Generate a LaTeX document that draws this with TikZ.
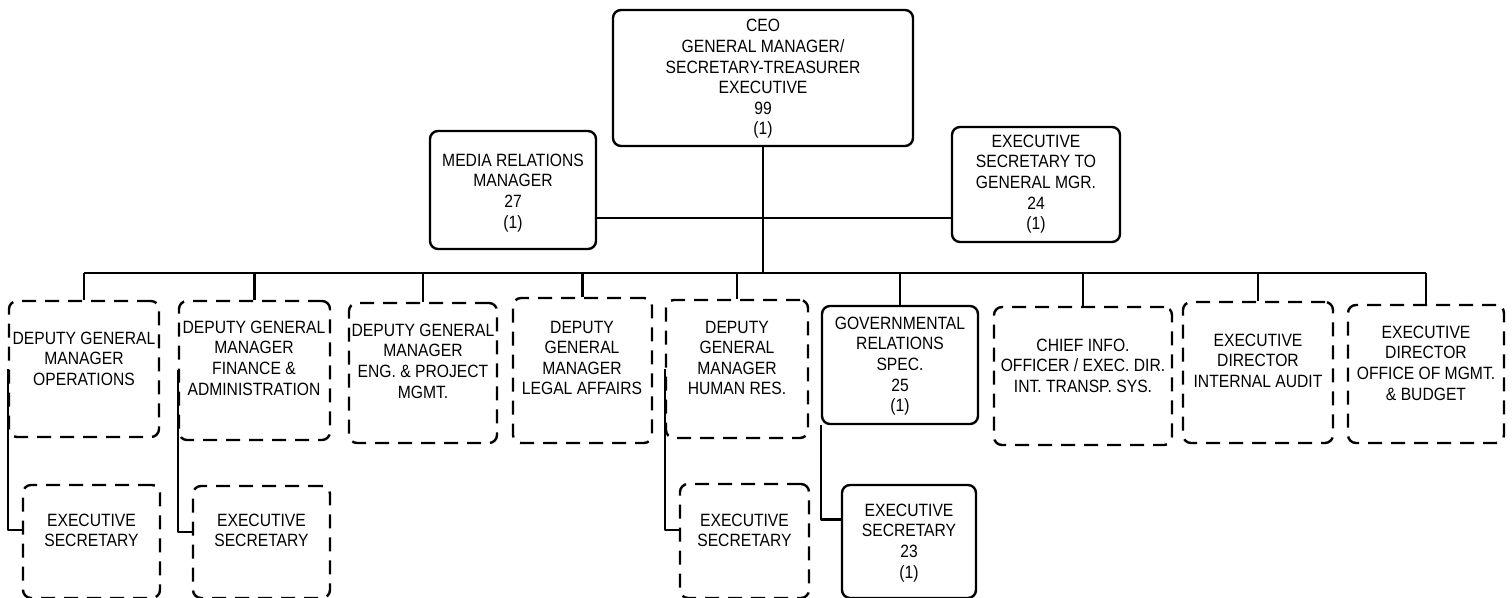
\documentclass[tikz,border=0pt]{standalone}
\usepackage{fontspec}
\setmainfont{Liberation Sans}[FakeStretch=0.88]
\usetikzlibrary{fit}
\newcommand\orgfont{\fontsize{8.9pt}{10.3pt}\selectfont}
\tikzset{
  solidbox/.style={draw, line width=1.2pt, rounded corners=4pt, inner sep=0pt},
  dashbox/.style={solidbox, dash pattern=on 7pt off 4.5pt},
  lbl/.style={align=center, inner sep=0pt, anchor=north, font=\orgfont},
  link/.style={line width=1.2pt}
}
\begin{document}
\begin{tikzpicture}[x=0.5pt,y=-0.5pt,line join=round]
\useasboundingbox (0,0) rectangle (1512,598);
% top level
\node[solidbox, fit={(613,10)(913,146)}] (ceo) {};
\node[solidbox, fit={(430,131)(596,249)}] (media) {};
\node[solidbox, fit={(952,127)(1120,242)}] (esgm) {};
\node[lbl] (ceoT) at (763,19) {CEO\\GENERAL MANAGER/\\SECRETARY-TREASURER\\EXECUTIVE\\99\\(1)};
\node[lbl] (mediaT) at (513,153.5) {MEDIA RELATIONS\\MANAGER\\27\\(1)};
\node[lbl] (esgmT) at (1036,134.5) {EXECUTIVE\\SECRETARY TO\\GENERAL MGR.\\24\\(1)};
% second row
\node[dashbox, fit={(9,301)(159,437)}] (ops) {};
\node[dashbox, fit={(179,301)(330,440)}] (fin) {};
\node[dashbox, fit={(349,303)(497,443)}] (eng) {};
\node[dashbox, fit={(513,298)(652,443)}] (legal) {};
\node[dashbox, fit={(666,300)(808,438)}] (hr) {};
\node[solidbox, fit={(822,306)(978,424)}] (gov) {};
\node[dashbox, fit={(994,307)(1172,445)}] (cio) {};
\node[dashbox, fit={(1183,302)(1333,443)}] (audit) {};
\node[dashbox, fit={(1348,305)(1504,443)}] (omb) {};
\node[lbl] (opsT) at (84,331.5) {DEPUTY GENERAL\\MANAGER\\OPERATIONS};
\node[lbl] (finT) at (254,320.5) {DEPUTY GENERAL\\MANAGER\\FINANCE \&\\ADMINISTRATION};
\node[lbl] (engT) at (423,323.5) {DEPUTY GENERAL\\MANAGER\\ENG. \& PROJECT\\MGMT.};
\node[lbl] (legalT) at (582,320.5) {DEPUTY\\GENERAL\\MANAGER\\LEGAL AFFAIRS};
\node[lbl] (hrT) at (737,320.5) {DEPUTY\\GENERAL\\MANAGER\\HUMAN RES.};
\node[lbl] (govT) at (900,316.5) {GOVERNMENTAL\\RELATIONS\\SPEC.\\25\\(1)};
\node[lbl] (cioT) at (1083,338.5) {CHIEF INFO.\\OFFICER / EXEC. DIR.\\INT. TRANSP. SYS.};
\node[lbl] (auditT) at (1258,333.5) {EXECUTIVE\\DIRECTOR\\INTERNAL AUDIT};
\node[lbl] (ombT) at (1426,325.5) {EXECUTIVE\\DIRECTOR\\OFFICE OF MGMT.\\\& BUDGET};
% third row
\node[dashbox, fit={(23,485)(160,598)}] (es1) {};
\node[dashbox, fit={(193,486)(330,598)}] (es2) {};
\node[dashbox, fit={(680,484)(809,598)}] (eshr) {};
\node[solidbox, fit={(842,485)(976,598)}] (esgov) {};
\node[lbl] (es1T) at (91.5,513.5) {EXECUTIVE\\SECRETARY};
\node[lbl] (es2T) at (261.5,513.5) {EXECUTIVE\\SECRETARY};
\node[lbl] (eshrT) at (744.5,513.5) {EXECUTIVE\\SECRETARY};
\node[lbl] (esgovT) at (909,503.5) {EXECUTIVE\\SECRETARY\\23\\(1)};
% connectors
\coordinate (staff) at (763,218);
\coordinate (bus) at (763,273);
\draw[link] (ceo.south) -- (ceo.south |- bus);
\draw[link] (staff -| media.east) -- (staff -| esgm.west);
\draw[link] (bus -| ops.north) -- (bus -| omb.north);
\foreach \n in {ops,fin,eng,legal,hr,gov,cio,audit,omb}
  \draw[link] (bus -| \n.north) -- (\n.north);
\draw[link] (ops.west) |- ([yshift=5.75pt]es1.west);
\draw[link] (fin.west) |- ([yshift=5pt]es2.west);
\draw[link] (hr.west) |- ([yshift=5.5pt]eshr.west);
\draw[link] (gov.south west) |- ([yshift=11pt]esgov.west);
\end{tikzpicture}
\end{document}
